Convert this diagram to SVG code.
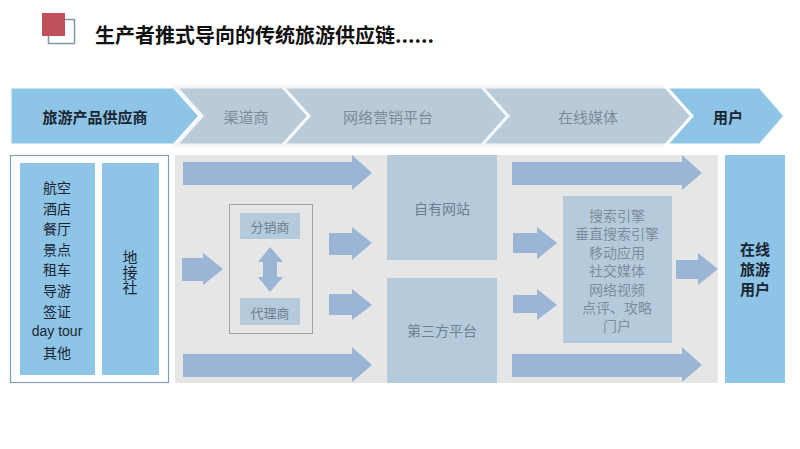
<svg xmlns="http://www.w3.org/2000/svg" width="800" height="449" viewBox="0 0 800 449">
<defs>
<style>
text{font-family:"Noto Sans CJK SC","Liberation Sans",sans-serif;text-anchor:middle;dominant-baseline:central}
.hb{fill:#8ec4e6;stroke:#fff;stroke-width:3}
.hg{fill:#b9cad8;stroke:#f4f6f8;stroke-width:3}
.dk{fill:#1b2633;font-weight:bold;font-size:15px}
.gt{fill:#7f8c98;font-size:15px}
.arr{fill:#9bb5d6}
.pb{fill:#b5cbdc}
.pt{fill:#6f8090;font-size:14px}
.mt{fill:#7e8d9c;font-size:14px}
.lt{fill:#1b2633;font-size:14px}
</style>
</defs>
<rect width="800" height="449" fill="#fff"/>
<g id="title">
<rect x="48.5" y="19.5" width="26" height="24" fill="#fff" stroke="#7f9aa6" stroke-width="1.5"/>
<rect x="42" y="13" width="23" height="23" fill="#c0505a"/>
<text x="95" y="43" style="text-anchor:start;dominant-baseline:alphabetic;font-size:20px;font-weight:bold;fill:#111">生产者推式导向的传统旅游供应链......</text>
</g>
<g id="header">
<polygon class="hb" points="10,87 174,87 200,116 174,145 10,145"/>
<polygon class="hg" points="176,87 283,87 309,116 283,145 176,145 202,116"/>
<polygon class="hg" points="283,87 482,87 508,116 482,145 283,145 309,116"/>
<polygon class="hg" points="482,87 666,87 692,116 666,145 482,145 508,116"/>
<polygon class="hb" points="666,87 760,87 785,116 760,145 666,145 692,116"/>
<text class="dk" x="95" y="116">旅游产品供应商</text>
<text class="gt" x="246" y="116">渠道商</text>
<text class="gt" x="388" y="116">网络营销平台</text>
<text class="gt" x="588" y="116">在线媒体</text>
<text class="dk" x="728" y="116">用户</text>
</g>
<g id="suppliers">
<rect x="10.5" y="155.5" width="158" height="227" fill="#fff" stroke="#7f9fb3" stroke-width="1.2"/>
<rect x="20" y="163" width="75" height="212" fill="#8ec4e6"/>
<rect x="102" y="163" width="57" height="212" fill="#8ec4e6"/>
<text class="lt" x="57" y="187">航空</text>
<text class="lt" x="57" y="207.6">酒店</text>
<text class="lt" x="57" y="228.2">餐厅</text>
<text class="lt" x="57" y="248.8">景点</text>
<text class="lt" x="57" y="269.4">租车</text>
<text class="lt" x="57" y="290">导游</text>
<text class="lt" x="57" y="310.6">签证</text>
<text class="lt" x="57" y="331.2" style="font-family:'Liberation Sans',sans-serif">day tour</text>
<text class="lt" x="57" y="351.8">其他</text>
<text class="lt" x="130" y="272" style="writing-mode:vertical-rl;font-size:15px">地接社</text>
</g>
<g id="panel">
<rect x="175" y="155" width="543" height="228" fill="#e6e6e6"/>
</g>
<g id="channel">
<rect x="229.5" y="204.5" width="83" height="129" fill="none" stroke="#9aa5ae" stroke-width="1"/>
<rect x="240" y="213" width="60" height="26" class="pb"/>
<text class="pt" x="270" y="226" style="font-size:13px">分销商</text>
<rect x="240" y="298" width="60" height="27" class="pb"/>
<text class="pt" x="270" y="312" style="font-size:13px">代理商</text>
</g>
<g id="ownsite">
<rect x="387" y="155" width="110" height="105" class="pb"/>
<text class="pt" x="442" y="208">自有网站</text>
</g>
<g id="thirdparty">
<rect x="387" y="278" width="110" height="105" class="pb"/>
<text class="pt" x="442" y="330">第三方平台</text>
</g>
<g id="media">
<rect x="563" y="196" width="109" height="147" class="pb"/>
<text class="mt" x="617" y="215">搜索引擎</text>
<text class="mt" x="617" y="233.4">垂直搜索引擎</text>
<text class="mt" x="617" y="251.8">移动应用</text>
<text class="mt" x="617" y="270.2">社交媒体</text>
<text class="mt" x="617" y="288.6">网络视频</text>
<text class="mt" x="617" y="307">点评、攻略</text>
<text class="mt" x="617" y="325.4">门户</text>
</g>
<g id="users">
<rect x="725" y="155" width="60" height="228" fill="#8ec4e6"/>
<text class="dk" x="755" y="248">在线</text>
<text class="dk" x="755" y="268">旅游</text>
<text class="dk" x="755" y="288">用户</text>
</g>
<g id="connectors">
<polygon class="arr" points="183,162 352,162 352,155 372,173 352,190 352,185 183,185"/>
<polygon class="arr" points="183,354 352,354 352,347 372,365 352,382 352,377 183,377"/>
<polygon class="arr" points="182,258 203,258 203,253 223,269 203,285 203,281 182,281"/>
<polygon class="arr" points="263,262 258,262 270,247 283,262 277,262 277,277 283,277 270,292 258,277 263,277"/>
<polygon class="arr" points="329,233 352,233 352,227 372,243 352,260 352,255 329,255"/>
<polygon class="arr" points="329,294 352,294 352,289 372,305 352,320 352,315 329,315"/>
<polygon class="arr" points="512,162 682,162 682,155 702,173 682,190 682,185 512,185"/>
<polygon class="arr" points="512,354 682,354 682,347 702,365 682,382 682,377 512,377"/>
<polygon class="arr" points="513,233 537,233 537,227 557,243 537,259 537,253 513,253"/>
<polygon class="arr" points="513,295 537,295 537,289 557,305 537,320 537,313 513,313"/>
<polygon class="arr" points="676,260 698,260 698,253 718,269 698,285 698,279 676,279"/>
</g>
</svg>
